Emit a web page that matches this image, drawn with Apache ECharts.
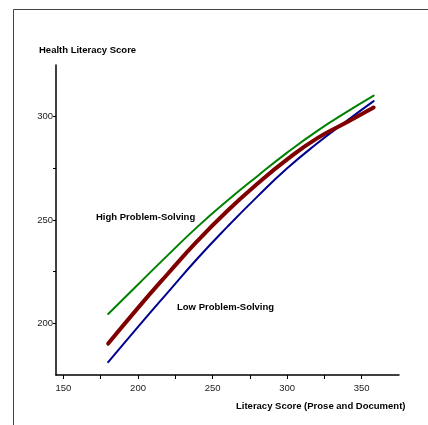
<!DOCTYPE html>
<html>
<head>
<meta charset="utf-8">
<script src="https://cdn.jsdelivr.net/npm/echarts@6/dist/echarts.min.js"></script>
<style>
  html, body { margin: 0; padding: 0; background: #fff; }
  #main { width: 428px; height: 425px; }
</style>
</head>
<body>
<div id="main"></div>
<script>
// literacy score (x) and health literacy score (y) for each group
var literacyScores = [180, 200, 220, 240, 260, 280, 300, 320, 340, 358];
var highProblemSolving = [204.5, 218.8, 233.0, 246.8, 259.4, 271.2, 282.6, 293.0, 302.3, 310.2];
var allAdults = [190.2, 207.5, 224.0, 240.0, 254.5, 267.5, 279.3, 289.5, 297.3, 304.4];
var lowProblemSolving = [181.2, 198.3, 215.0, 231.5, 246.8, 261.3, 275.0, 287.0, 298.0, 307.5];

var xTickValues = [150, 175, 200, 225, 250, 275, 300, 325, 350];
var xLabelValues = [150, 200, 250, 300, 350];
var yTickValues = [200, 225, 250, 275, 300];
var yLabelValues = [200, 250, 300];

var font = '"Liberation Sans", Arial, sans-serif';

function pairs(ys) {
	var out = [];
	for (var i = 0; i < literacyScores.length; i++) {
		out.push([literacyScores[i], ys[i]]);
	}
	return out;
}

function makeLine(name, ys, color, width) {
	return {
		name: name,
		type: 'line',
		data: pairs(ys),
		smooth: true,
		symbol: 'none',
		silent: true,
		lineStyle: { color: color, width: width, cap: 'round' }
	};
}

var myChart = echarts.init(document.getElementById('main'));

var option = {
	animation: false,
	backgroundColor: '#fff',
	grid: { left: 56, top: 65, right: 29, bottom: 50 },
	xAxis: {
		type: 'value',
		min: 145,
		max: 375,
		splitLine: { show: false },
		axisLine: { show: true, onZero: false, lineStyle: { color: '#000', width: 1.5 } },
		axisTick: { show: true, length: 4, customValues: xTickValues, lineStyle: { color: '#000', width: 1 } },
		axisLabel: { customValues: xLabelValues, color: '#222', fontSize: 9.5, fontFamily: font, margin: 8 }
	},
	yAxis: {
		type: 'value',
		min: 175,
		max: 325,
		splitLine: { show: false },
		axisLine: { show: true, onZero: false, lineStyle: { color: '#000', width: 1.5 } },
		axisTick: { show: true, length: 3, customValues: yTickValues, lineStyle: { color: '#000', width: 1 } },
		axisLabel: { customValues: yLabelValues, color: '#222', fontSize: 9.5, fontFamily: font, margin: 3 }
	},
	graphic: [
		{
			type: 'rect',
			silent: true,
			shape: { x: 13.5, y: 9.5, width: 600, height: 600 },
			style: { fill: null, stroke: '#444', lineWidth: 1 }
		},
		{
			type: 'text', left: 39, top: 45,
			style: { text: 'Health Literacy Score', fill: '#000', font: 'bold 9.5px ' + font }
		},
		{
			type: 'text', left: 96, top: 212,
			style: { text: 'High Problem-Solving', fill: '#000', font: 'bold 9.5px ' + font }
		},
		{
			type: 'text', left: 177, top: 302,
			style: { text: 'Low Problem-Solving', fill: '#000', font: 'bold 9.5px ' + font }
		},
		{
			type: 'text', left: 236, top: 401,
			style: { text: 'Literacy Score (Prose and Document)', fill: '#000', font: 'bold 9.5px ' + font }
		}
	],
	series: [
		makeLine('High Problem-Solving', highProblemSolving, '#008000', 2),
		makeLine('Low Problem-Solving', lowProblemSolving, '#000090', 2),
		makeLine('All', allAdults, '#800000', 4)
	]
};

myChart.setOption(option);
</script>
</body>
</html>
